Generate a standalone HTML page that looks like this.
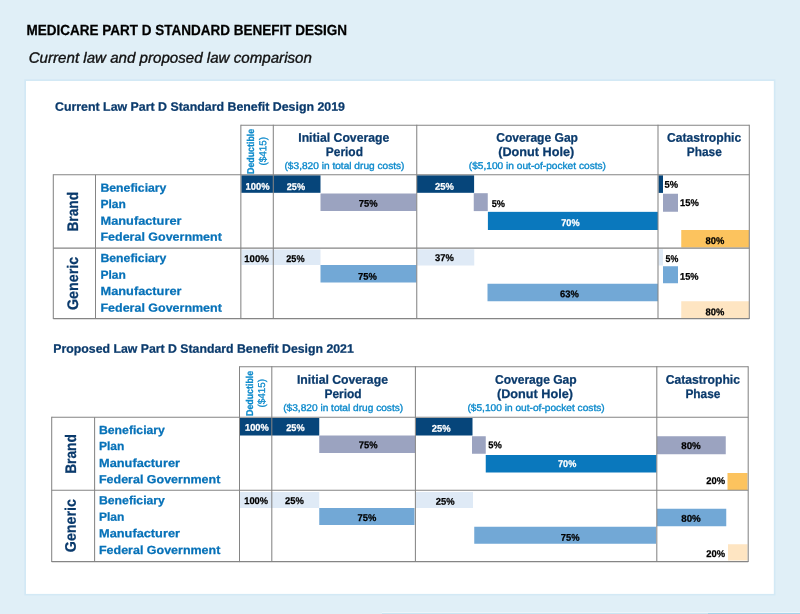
<!DOCTYPE html>
<html lang="en"><head><meta charset="utf-8"><title>Medicare Part D Standard Benefit Design</title>
<style>
html,body{margin:0;padding:0;background:#e0eff7;}
body{width:800px;height:614px;overflow:hidden;}
svg{display:block;font-family:"Liberation Sans",sans-serif;}
</style></head><body>
<svg width="800" height="614" viewBox="0 0 800 614">
<rect x="0.00" y="0.00" width="800.00" height="614.00" fill="#e0eff7"/>
<rect x="24.30" y="79.30" width="751.10" height="516.20" fill="#d3e9f5"/>
<rect x="26.00" y="81.00" width="747.80" height="512.90" fill="#ffffff"/>
<rect x="382.00" y="612.00" width="418.00" height="1.00" fill="#edf5fa"/>
<rect x="382.00" y="613.00" width="326.00" height="1.00" fill="#c9e4f2"/>
<rect x="708.00" y="613.00" width="92.00" height="1.00" fill="#a5d3ea"/>
<text transform="rotate(0.03 186.75 35.25)" x="26.50" y="35.25" font-size="14.6" font-weight="bold" font-style="normal" fill="#000" stroke="#000" stroke-width="0.25" textLength="320.50" lengthAdjust="spacingAndGlyphs">MEDICARE PART D STANDARD BENEFIT DESIGN</text>
<text transform="rotate(0.03 170.30 62.75)" x="28.70" y="62.75" font-size="15" font-weight="normal" font-style="italic" fill="#111" stroke="#111" stroke-width="0.35" textLength="283.20" lengthAdjust="spacingAndGlyphs">Current law and proposed law comparison</text>
<text transform="rotate(0.03 200.00 110.75)" x="55.00" y="110.75" font-size="12.2" font-weight="bold" font-style="normal" fill="#0a3a6c" stroke="#0a3a6c" stroke-width="0.25" textLength="290.00" lengthAdjust="spacingAndGlyphs">Current Law Part D Standard Benefit Design 2019</text>
<text transform="rotate(0.03 203.53 352.75)" x="53.30" y="352.75" font-size="12.2" font-weight="bold" font-style="normal" fill="#0a3a6c" stroke="#0a3a6c" stroke-width="0.25" textLength="300.45" lengthAdjust="spacingAndGlyphs">Proposed Law Part D Standard Benefit Design 2021</text>
<rect x="241.30" y="175.30" width="79.20" height="17.50" fill="#06457a"/>
<rect x="320.50" y="193.50" width="96.00" height="17.50" fill="#9ba3c0"/>
<rect x="417.00" y="175.30" width="57.10" height="17.50" fill="#06457a"/>
<rect x="473.75" y="193.20" width="14.00" height="17.90" fill="#9ba3c0"/>
<rect x="487.90" y="211.85" width="170.10" height="18.15" fill="#0a78bd"/>
<rect x="658.50" y="175.30" width="4.50" height="17.60" fill="#06457a"/>
<rect x="663.00" y="193.75" width="15.00" height="18.00" fill="#9ba3c0"/>
<rect x="681.25" y="230.00" width="67.75" height="17.50" fill="#fcc35e"/>
<rect x="241.50" y="249.50" width="79.00" height="15.50" fill="#dfeaf6"/>
<rect x="320.50" y="265.00" width="96.00" height="17.50" fill="#72a8d6"/>
<rect x="417.00" y="249.25" width="57.25" height="16.25" fill="#dfeaf6"/>
<rect x="487.50" y="283.75" width="170.50" height="17.50" fill="#72a8d6"/>
<rect x="658.50" y="249.25" width="4.50" height="16.25" fill="#dfeaf6"/>
<rect x="663.00" y="266.25" width="15.00" height="17.00" fill="#72a8d6"/>
<rect x="681.25" y="301.25" width="67.75" height="17.25" fill="#fee5c2"/>
<rect x="240.00" y="418.00" width="79.25" height="17.50" fill="#06457a"/>
<rect x="319.25" y="435.50" width="95.75" height="17.50" fill="#9ba3c0"/>
<rect x="416.00" y="418.00" width="56.50" height="17.50" fill="#06457a"/>
<rect x="472.00" y="436.25" width="13.75" height="17.50" fill="#9ba3c0"/>
<rect x="485.75" y="455.00" width="170.75" height="17.50" fill="#0a78bd"/>
<rect x="657.00" y="436.25" width="68.75" height="18.00" fill="#9ba3c0"/>
<rect x="727.50" y="473.00" width="20.00" height="17.00" fill="#fcc35e"/>
<rect x="240.00" y="492.00" width="79.25" height="16.00" fill="#dfeaf6"/>
<rect x="319.25" y="508.00" width="95.25" height="17.00" fill="#72a8d6"/>
<rect x="416.00" y="492.00" width="57.00" height="16.00" fill="#dfeaf6"/>
<rect x="474.25" y="526.75" width="181.75" height="17.00" fill="#72a8d6"/>
<rect x="657.00" y="508.75" width="69.25" height="17.50" fill="#72a8d6"/>
<rect x="728.00" y="544.25" width="19.50" height="16.25" fill="#fee5c2"/>
<line x1="240.85" y1="125.20" x2="749.30" y2="125.20" stroke="#858585" stroke-width="1.05"/>
<line x1="53.30" y1="174.80" x2="749.30" y2="174.80" stroke="#858585" stroke-width="1.05"/>
<line x1="53.30" y1="248.10" x2="749.30" y2="248.10" stroke="#858585" stroke-width="1.05"/>
<line x1="53.30" y1="318.60" x2="749.30" y2="318.60" stroke="#858585" stroke-width="1.05"/>
<line x1="240.85" y1="124.70" x2="240.85" y2="319.10" stroke="#858585" stroke-width="1.05"/>
<line x1="273.30" y1="124.70" x2="273.30" y2="319.10" stroke="#858585" stroke-width="1.05"/>
<line x1="416.75" y1="124.70" x2="416.75" y2="319.10" stroke="#858585" stroke-width="1.05"/>
<line x1="658.00" y1="124.70" x2="658.00" y2="319.10" stroke="#858585" stroke-width="1.05"/>
<line x1="749.30" y1="124.70" x2="749.30" y2="319.10" stroke="#858585" stroke-width="1.05"/>
<line x1="53.30" y1="174.30" x2="53.30" y2="319.10" stroke="#858585" stroke-width="1.05"/>
<line x1="95.50" y1="174.80" x2="95.50" y2="318.60" stroke="#858585" stroke-width="1.05"/>
<line x1="239.50" y1="366.75" x2="748.20" y2="366.75" stroke="#858585" stroke-width="1.05"/>
<line x1="51.70" y1="417.20" x2="748.20" y2="417.20" stroke="#858585" stroke-width="1.05"/>
<line x1="51.70" y1="490.20" x2="748.20" y2="490.20" stroke="#858585" stroke-width="1.05"/>
<line x1="51.70" y1="561.60" x2="748.20" y2="561.60" stroke="#858585" stroke-width="1.05"/>
<line x1="239.50" y1="366.25" x2="239.50" y2="562.10" stroke="#858585" stroke-width="1.05"/>
<line x1="271.80" y1="366.25" x2="271.80" y2="562.10" stroke="#858585" stroke-width="1.05"/>
<line x1="415.40" y1="366.25" x2="415.40" y2="562.10" stroke="#858585" stroke-width="1.05"/>
<line x1="656.80" y1="366.25" x2="656.80" y2="562.10" stroke="#858585" stroke-width="1.05"/>
<line x1="748.20" y1="366.25" x2="748.20" y2="562.10" stroke="#858585" stroke-width="1.05"/>
<line x1="51.70" y1="416.70" x2="51.70" y2="562.10" stroke="#858585" stroke-width="1.05"/>
<line x1="94.60" y1="417.20" x2="94.60" y2="561.60" stroke="#858585" stroke-width="1.05"/>
<text transform="rotate(0.03 343.75 141.75)" x="298.25" y="141.75" font-size="12.5" font-weight="bold" font-style="normal" fill="#0a3a6c" stroke="#0a3a6c" stroke-width="0.25" textLength="91.00" lengthAdjust="spacingAndGlyphs">Initial Coverage</text>
<text transform="rotate(0.03 344.38 156.00)" x="325.75" y="156.00" font-size="12.5" font-weight="bold" font-style="normal" fill="#0a3a6c" stroke="#0a3a6c" stroke-width="0.25" textLength="37.25" lengthAdjust="spacingAndGlyphs">Period</text>
<text transform="rotate(0.03 344.50 169.00)" x="284.50" y="169.00" font-size="9.8" font-weight="normal" font-style="normal" fill="#0d8acc" stroke="#0d8acc" stroke-width="0.35" textLength="120.00" lengthAdjust="spacingAndGlyphs">($3,820 in total drug costs)</text>
<text transform="rotate(0.03 537.12 141.75)" x="496.25" y="141.75" font-size="12.5" font-weight="bold" font-style="normal" fill="#0a3a6c" stroke="#0a3a6c" stroke-width="0.25" textLength="81.75" lengthAdjust="spacingAndGlyphs">Coverage Gap</text>
<text transform="rotate(0.03 536.25 156.00)" x="498.25" y="156.00" font-size="12.5" font-weight="bold" font-style="normal" fill="#0a3a6c" stroke="#0a3a6c" stroke-width="0.25" textLength="76.00" lengthAdjust="spacingAndGlyphs">(Donut Hole)</text>
<text transform="rotate(0.03 537.38 169.00)" x="468.75" y="169.00" font-size="9.8" font-weight="normal" font-style="normal" fill="#0d8acc" stroke="#0d8acc" stroke-width="0.35" textLength="137.25" lengthAdjust="spacingAndGlyphs">($5,100 in out-of-pocket costs)</text>
<text transform="rotate(0.03 704.12 141.75)" x="667.00" y="141.75" font-size="12.5" font-weight="bold" font-style="normal" fill="#0a3a6c" stroke="#0a3a6c" stroke-width="0.25" textLength="74.25" lengthAdjust="spacingAndGlyphs">Catastrophic</text>
<text transform="rotate(0.03 704.25 156.00)" x="686.75" y="156.00" font-size="12.5" font-weight="bold" font-style="normal" fill="#0a3a6c" stroke="#0a3a6c" stroke-width="0.25" textLength="35.00" lengthAdjust="spacingAndGlyphs">Phase</text>
<text transform="rotate(0.03 254.00 151.40) translate(254.00 174.00) rotate(-90)" font-size="9.9" font-weight="bold" fill="#0d8acc" stroke="#0d8acc" stroke-width="0.25" textLength="45.20" lengthAdjust="spacingAndGlyphs">Deductible</text>
<text transform="rotate(0.03 266.25 151.25) translate(266.25 165.50) rotate(-90)" font-size="10" font-weight="normal" fill="#0d8acc" stroke="#0d8acc" stroke-width="0.3" textLength="28.50" lengthAdjust="spacingAndGlyphs">($415)</text>
<text transform="rotate(0.03 342.45 383.75)" x="296.95" y="383.75" font-size="12.5" font-weight="bold" font-style="normal" fill="#0a3a6c" stroke="#0a3a6c" stroke-width="0.25" textLength="91.00" lengthAdjust="spacingAndGlyphs">Initial Coverage</text>
<text transform="rotate(0.03 343.07 398.00)" x="324.45" y="398.00" font-size="12.5" font-weight="bold" font-style="normal" fill="#0a3a6c" stroke="#0a3a6c" stroke-width="0.25" textLength="37.25" lengthAdjust="spacingAndGlyphs">Period</text>
<text transform="rotate(0.03 343.20 411.00)" x="283.20" y="411.00" font-size="9.8" font-weight="normal" font-style="normal" fill="#0d8acc" stroke="#0d8acc" stroke-width="0.35" textLength="120.00" lengthAdjust="spacingAndGlyphs">($3,820 in total drug costs)</text>
<text transform="rotate(0.03 535.83 383.75)" x="494.95" y="383.75" font-size="12.5" font-weight="bold" font-style="normal" fill="#0a3a6c" stroke="#0a3a6c" stroke-width="0.25" textLength="81.75" lengthAdjust="spacingAndGlyphs">Coverage Gap</text>
<text transform="rotate(0.03 534.95 398.00)" x="496.95" y="398.00" font-size="12.5" font-weight="bold" font-style="normal" fill="#0a3a6c" stroke="#0a3a6c" stroke-width="0.25" textLength="76.00" lengthAdjust="spacingAndGlyphs">(Donut Hole)</text>
<text transform="rotate(0.03 536.08 411.00)" x="467.45" y="411.00" font-size="9.8" font-weight="normal" font-style="normal" fill="#0d8acc" stroke="#0d8acc" stroke-width="0.35" textLength="137.25" lengthAdjust="spacingAndGlyphs">($5,100 in out-of-pocket costs)</text>
<text transform="rotate(0.03 702.83 383.75)" x="665.70" y="383.75" font-size="12.5" font-weight="bold" font-style="normal" fill="#0a3a6c" stroke="#0a3a6c" stroke-width="0.25" textLength="74.25" lengthAdjust="spacingAndGlyphs">Catastrophic</text>
<text transform="rotate(0.03 702.95 398.00)" x="685.45" y="398.00" font-size="12.5" font-weight="bold" font-style="normal" fill="#0a3a6c" stroke="#0a3a6c" stroke-width="0.25" textLength="35.00" lengthAdjust="spacingAndGlyphs">Phase</text>
<text transform="rotate(0.03 252.75 393.40) translate(252.75 416.00) rotate(-90)" font-size="9.9" font-weight="bold" fill="#0d8acc" stroke="#0d8acc" stroke-width="0.25" textLength="45.20" lengthAdjust="spacingAndGlyphs">Deductible</text>
<text transform="rotate(0.03 265.00 393.25) translate(265.00 407.50) rotate(-90)" font-size="10" font-weight="normal" fill="#0d8acc" stroke="#0d8acc" stroke-width="0.3" textLength="28.50" lengthAdjust="spacingAndGlyphs">($415)</text>
<text transform="rotate(0.03 133.45 191.75)" x="100.50" y="191.75" font-size="11.8" font-weight="bold" font-style="normal" fill="#0671b8" stroke="#0671b8" stroke-width="0.25" textLength="65.90" lengthAdjust="spacingAndGlyphs">Beneficiary</text>
<text transform="rotate(0.03 113.20 208.00)" x="100.50" y="208.00" font-size="11.8" font-weight="bold" font-style="normal" fill="#0671b8" stroke="#0671b8" stroke-width="0.25" textLength="25.40" lengthAdjust="spacingAndGlyphs">Plan</text>
<text transform="rotate(0.03 141.00 224.75)" x="100.50" y="224.75" font-size="11.8" font-weight="bold" font-style="normal" fill="#0671b8" stroke="#0671b8" stroke-width="0.25" textLength="81.00" lengthAdjust="spacingAndGlyphs">Manufacturer</text>
<text transform="rotate(0.03 161.15 240.75)" x="100.50" y="240.75" font-size="11.8" font-weight="bold" font-style="normal" fill="#0671b8" stroke="#0671b8" stroke-width="0.25" textLength="121.30" lengthAdjust="spacingAndGlyphs">Federal Government</text>
<text transform="rotate(0.03 133.45 262.00)" x="100.50" y="262.00" font-size="11.8" font-weight="bold" font-style="normal" fill="#0671b8" stroke="#0671b8" stroke-width="0.25" textLength="65.90" lengthAdjust="spacingAndGlyphs">Beneficiary</text>
<text transform="rotate(0.03 113.20 278.75)" x="100.50" y="278.75" font-size="11.8" font-weight="bold" font-style="normal" fill="#0671b8" stroke="#0671b8" stroke-width="0.25" textLength="25.40" lengthAdjust="spacingAndGlyphs">Plan</text>
<text transform="rotate(0.03 141.00 295.00)" x="100.50" y="295.00" font-size="11.8" font-weight="bold" font-style="normal" fill="#0671b8" stroke="#0671b8" stroke-width="0.25" textLength="81.00" lengthAdjust="spacingAndGlyphs">Manufacturer</text>
<text transform="rotate(0.03 161.15 311.75)" x="100.50" y="311.75" font-size="11.8" font-weight="bold" font-style="normal" fill="#0671b8" stroke="#0671b8" stroke-width="0.25" textLength="121.30" lengthAdjust="spacingAndGlyphs">Federal Government</text>
<text transform="rotate(0.03 131.95 434.00)" x="99.00" y="434.00" font-size="11.8" font-weight="bold" font-style="normal" fill="#0671b8" stroke="#0671b8" stroke-width="0.25" textLength="65.90" lengthAdjust="spacingAndGlyphs">Beneficiary</text>
<text transform="rotate(0.03 111.70 450.00)" x="99.00" y="450.00" font-size="11.8" font-weight="bold" font-style="normal" fill="#0671b8" stroke="#0671b8" stroke-width="0.25" textLength="25.40" lengthAdjust="spacingAndGlyphs">Plan</text>
<text transform="rotate(0.03 139.50 467.00)" x="99.00" y="467.00" font-size="11.8" font-weight="bold" font-style="normal" fill="#0671b8" stroke="#0671b8" stroke-width="0.25" textLength="81.00" lengthAdjust="spacingAndGlyphs">Manufacturer</text>
<text transform="rotate(0.03 159.65 483.25)" x="99.00" y="483.25" font-size="11.8" font-weight="bold" font-style="normal" fill="#0671b8" stroke="#0671b8" stroke-width="0.25" textLength="121.30" lengthAdjust="spacingAndGlyphs">Federal Government</text>
<text transform="rotate(0.03 131.95 504.25)" x="99.00" y="504.25" font-size="11.8" font-weight="bold" font-style="normal" fill="#0671b8" stroke="#0671b8" stroke-width="0.25" textLength="65.90" lengthAdjust="spacingAndGlyphs">Beneficiary</text>
<text transform="rotate(0.03 111.70 520.75)" x="99.00" y="520.75" font-size="11.8" font-weight="bold" font-style="normal" fill="#0671b8" stroke="#0671b8" stroke-width="0.25" textLength="25.40" lengthAdjust="spacingAndGlyphs">Plan</text>
<text transform="rotate(0.03 139.50 537.25)" x="99.00" y="537.25" font-size="11.8" font-weight="bold" font-style="normal" fill="#0671b8" stroke="#0671b8" stroke-width="0.25" textLength="81.00" lengthAdjust="spacingAndGlyphs">Manufacturer</text>
<text transform="rotate(0.03 159.65 554.00)" x="99.00" y="554.00" font-size="11.8" font-weight="bold" font-style="normal" fill="#0671b8" stroke="#0671b8" stroke-width="0.25" textLength="121.30" lengthAdjust="spacingAndGlyphs">Federal Government</text>
<text transform="rotate(0.03 78.00 211.75) translate(78.00 231.60) rotate(-90)" font-size="15.3" font-weight="bold" fill="#0a3a6c" stroke="#0a3a6c" stroke-width="0.25" textLength="39.70" lengthAdjust="spacingAndGlyphs">Brand</text>
<text transform="rotate(0.03 78.00 283.40) translate(78.00 310.00) rotate(-90)" font-size="15.3" font-weight="bold" fill="#0a3a6c" stroke="#0a3a6c" stroke-width="0.25" textLength="53.20" lengthAdjust="spacingAndGlyphs">Generic</text>
<text transform="rotate(0.03 75.75 453.95) translate(75.75 473.80) rotate(-90)" font-size="15.3" font-weight="bold" fill="#0a3a6c" stroke="#0a3a6c" stroke-width="0.25" textLength="39.70" lengthAdjust="spacingAndGlyphs">Brand</text>
<text transform="rotate(0.03 75.75 525.60) translate(75.75 552.20) rotate(-90)" font-size="15.3" font-weight="bold" fill="#0a3a6c" stroke="#0a3a6c" stroke-width="0.25" textLength="53.20" lengthAdjust="spacingAndGlyphs">Generic</text>
<text transform="rotate(0.03 257.50 189.75)" x="245.50" y="189.75" font-size="9.8" font-weight="bold" font-style="normal" fill="#fff" stroke="#fff" stroke-width="0.25" textLength="24.00" lengthAdjust="spacingAndGlyphs">100%</text>
<text transform="rotate(0.03 295.88 189.75)" x="286.75" y="189.75" font-size="9.8" font-weight="bold" font-style="normal" fill="#fff" stroke="#fff" stroke-width="0.25" textLength="18.25" lengthAdjust="spacingAndGlyphs">25%</text>
<text transform="rotate(0.03 368.12 206.75)" x="358.75" y="206.75" font-size="9.8" font-weight="bold" font-style="normal" fill="#000" stroke="#000" stroke-width="0.25" textLength="18.75" lengthAdjust="spacingAndGlyphs">75%</text>
<text transform="rotate(0.03 444.38 189.75)" x="435.00" y="189.75" font-size="9.8" font-weight="bold" font-style="normal" fill="#fff" stroke="#fff" stroke-width="0.25" textLength="18.75" lengthAdjust="spacingAndGlyphs">25%</text>
<text transform="rotate(0.03 498.38 207.00)" x="491.75" y="207.00" font-size="9.8" font-weight="bold" font-style="normal" fill="#000" stroke="#000" stroke-width="0.25" textLength="13.25" lengthAdjust="spacingAndGlyphs">5%</text>
<text transform="rotate(0.03 570.38 226.00)" x="561.25" y="226.00" font-size="9.8" font-weight="bold" font-style="normal" fill="#fff" stroke="#fff" stroke-width="0.25" textLength="18.25" lengthAdjust="spacingAndGlyphs">70%</text>
<text transform="rotate(0.03 671.25 187.75)" x="664.50" y="187.75" font-size="9.8" font-weight="bold" font-style="normal" fill="#000" stroke="#000" stroke-width="0.25" textLength="13.50" lengthAdjust="spacingAndGlyphs">5%</text>
<text transform="rotate(0.03 689.38 206.00)" x="680.00" y="206.00" font-size="9.8" font-weight="bold" font-style="normal" fill="#000" stroke="#000" stroke-width="0.25" textLength="18.75" lengthAdjust="spacingAndGlyphs">15%</text>
<text transform="rotate(0.03 714.88 244.00)" x="705.50" y="244.00" font-size="9.8" font-weight="bold" font-style="normal" fill="#000" stroke="#000" stroke-width="0.25" textLength="18.75" lengthAdjust="spacingAndGlyphs">80%</text>
<text transform="rotate(0.03 256.50 262.00)" x="244.25" y="262.00" font-size="9.8" font-weight="bold" font-style="normal" fill="#000" stroke="#000" stroke-width="0.25" textLength="24.50" lengthAdjust="spacingAndGlyphs">100%</text>
<text transform="rotate(0.03 295.38 262.00)" x="286.25" y="262.00" font-size="9.8" font-weight="bold" font-style="normal" fill="#000" stroke="#000" stroke-width="0.25" textLength="18.25" lengthAdjust="spacingAndGlyphs">25%</text>
<text transform="rotate(0.03 367.38 279.75)" x="358.00" y="279.75" font-size="9.8" font-weight="bold" font-style="normal" fill="#000" stroke="#000" stroke-width="0.25" textLength="18.75" lengthAdjust="spacingAndGlyphs">75%</text>
<text transform="rotate(0.03 444.38 261.00)" x="435.00" y="261.00" font-size="9.8" font-weight="bold" font-style="normal" fill="#000" stroke="#000" stroke-width="0.25" textLength="18.75" lengthAdjust="spacingAndGlyphs">37%</text>
<text transform="rotate(0.03 569.38 297.25)" x="560.00" y="297.25" font-size="9.8" font-weight="bold" font-style="normal" fill="#000" stroke="#000" stroke-width="0.25" textLength="18.75" lengthAdjust="spacingAndGlyphs">63%</text>
<text transform="rotate(0.03 671.88 261.75)" x="665.50" y="261.75" font-size="9.8" font-weight="bold" font-style="normal" fill="#000" stroke="#000" stroke-width="0.25" textLength="12.75" lengthAdjust="spacingAndGlyphs">5%</text>
<text transform="rotate(0.03 689.25 279.75)" x="680.00" y="279.75" font-size="9.8" font-weight="bold" font-style="normal" fill="#000" stroke="#000" stroke-width="0.25" textLength="18.50" lengthAdjust="spacingAndGlyphs">15%</text>
<text transform="rotate(0.03 714.88 315.25)" x="705.50" y="315.25" font-size="9.8" font-weight="bold" font-style="normal" fill="#000" stroke="#000" stroke-width="0.25" textLength="18.75" lengthAdjust="spacingAndGlyphs">80%</text>
<text transform="rotate(0.03 256.88 430.75)" x="245.00" y="430.75" font-size="9.8" font-weight="bold" font-style="normal" fill="#fff" stroke="#fff" stroke-width="0.25" textLength="23.75" lengthAdjust="spacingAndGlyphs">100%</text>
<text transform="rotate(0.03 295.38 430.75)" x="286.25" y="430.75" font-size="9.8" font-weight="bold" font-style="normal" fill="#fff" stroke="#fff" stroke-width="0.25" textLength="18.25" lengthAdjust="spacingAndGlyphs">25%</text>
<text transform="rotate(0.03 368.12 448.25)" x="358.75" y="448.25" font-size="9.8" font-weight="bold" font-style="normal" fill="#000" stroke="#000" stroke-width="0.25" textLength="18.75" lengthAdjust="spacingAndGlyphs">75%</text>
<text transform="rotate(0.03 441.12 431.75)" x="431.75" y="431.75" font-size="9.8" font-weight="bold" font-style="normal" fill="#fff" stroke="#fff" stroke-width="0.25" textLength="18.75" lengthAdjust="spacingAndGlyphs">25%</text>
<text transform="rotate(0.03 495.00 448.25)" x="488.25" y="448.25" font-size="9.8" font-weight="bold" font-style="normal" fill="#000" stroke="#000" stroke-width="0.25" textLength="13.50" lengthAdjust="spacingAndGlyphs">5%</text>
<text transform="rotate(0.03 567.12 467.25)" x="558.00" y="467.25" font-size="9.8" font-weight="bold" font-style="normal" fill="#fff" stroke="#fff" stroke-width="0.25" textLength="18.25" lengthAdjust="spacingAndGlyphs">70%</text>
<text transform="rotate(0.03 691.00 449.00)" x="681.25" y="449.00" font-size="9.8" font-weight="bold" font-style="normal" fill="#000" stroke="#000" stroke-width="0.25" textLength="19.50" lengthAdjust="spacingAndGlyphs">80%</text>
<text transform="rotate(0.03 715.62 484.00)" x="706.25" y="484.00" font-size="9.8" font-weight="bold" font-style="normal" fill="#000" stroke="#000" stroke-width="0.25" textLength="18.75" lengthAdjust="spacingAndGlyphs">20%</text>
<text transform="rotate(0.03 256.12 504.00)" x="244.25" y="504.00" font-size="9.8" font-weight="bold" font-style="normal" fill="#000" stroke="#000" stroke-width="0.25" textLength="23.75" lengthAdjust="spacingAndGlyphs">100%</text>
<text transform="rotate(0.03 294.38 504.00)" x="285.00" y="504.00" font-size="9.8" font-weight="bold" font-style="normal" fill="#000" stroke="#000" stroke-width="0.25" textLength="18.75" lengthAdjust="spacingAndGlyphs">25%</text>
<text transform="rotate(0.03 366.88 521.00)" x="357.50" y="521.00" font-size="9.8" font-weight="bold" font-style="normal" fill="#000" stroke="#000" stroke-width="0.25" textLength="18.75" lengthAdjust="spacingAndGlyphs">75%</text>
<text transform="rotate(0.03 445.12 504.75)" x="435.75" y="504.75" font-size="9.8" font-weight="bold" font-style="normal" fill="#000" stroke="#000" stroke-width="0.25" textLength="18.75" lengthAdjust="spacingAndGlyphs">25%</text>
<text transform="rotate(0.03 570.12 540.75)" x="560.75" y="540.75" font-size="9.8" font-weight="bold" font-style="normal" fill="#000" stroke="#000" stroke-width="0.25" textLength="18.75" lengthAdjust="spacingAndGlyphs">75%</text>
<text transform="rotate(0.03 691.00 521.75)" x="681.25" y="521.75" font-size="9.8" font-weight="bold" font-style="normal" fill="#000" stroke="#000" stroke-width="0.25" textLength="19.50" lengthAdjust="spacingAndGlyphs">80%</text>
<text transform="rotate(0.03 715.62 557.00)" x="706.25" y="557.00" font-size="9.8" font-weight="bold" font-style="normal" fill="#000" stroke="#000" stroke-width="0.25" textLength="18.75" lengthAdjust="spacingAndGlyphs">20%</text>
</svg>
</body></html>
